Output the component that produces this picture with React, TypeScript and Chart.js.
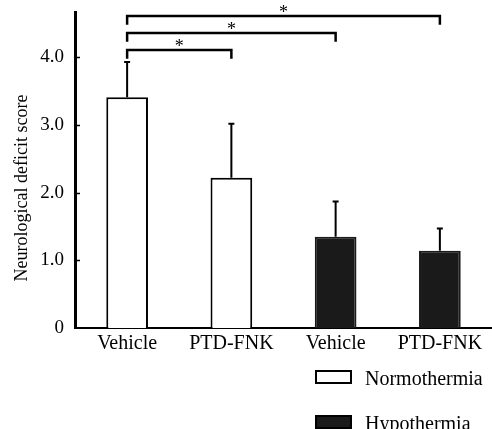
import React, { useEffect, useRef } from "react";
import { Chart, registerables } from "chart.js";

Chart.register(...registerables);

const categories = ["Vehicle", "PTD-FNK", "Vehicle", "PTD-FNK"];
const normothermia = [3.41, 2.22, null, null];
const hypothermia = [null, null, 1.35, 1.14];
const errorTops = [3.93, 3.02, 1.87, 1.47];
const yTicks = [0, 1, 2, 3, 4];
const bracketFrom = [0, 0, 0];
const bracketTo = [1, 2, 3];
const bracketLevel = [4.11, 4.36, 4.61];
const bracketDrop = 0.13;
const legendLabels = ["Normothermia", "Hypothermia"];
const legendFills = ["#ffffff", "#1a1a1a"];
const yTitle = "Neurological deficit score";

const SERIF = "'Liberation Serif', 'Times New Roman', serif";

const overlayPlugin = {
  id: "overlay",
  afterDraw(chart: any) {
    const ctx = chart.ctx;
    const x = chart.scales.x;
    const y = chart.scales.y;
    ctx.save();
    ctx.strokeStyle = "#000";
    ctx.fillStyle = "#000";
    // y title
    ctx.save();
    ctx.translate(22, 188);
    ctx.rotate(-Math.PI / 2);
    ctx.font = "18px " + SERIF;
    ctx.textAlign = "center";
    ctx.textBaseline = "middle";
    ctx.fillText(yTitle, 0, 0);
    ctx.restore();
    // inner y ticks
    ctx.lineWidth = 1.5;
    yTicks.forEach((v) => {
      if (v === 0) return;
      const py = Math.round(y.getPixelForValue(v)) + 0.5;
      ctx.beginPath();
      ctx.moveTo(chart.chartArea.left, py);
      ctx.lineTo(chart.chartArea.left + 5, py);
      ctx.stroke();
    });
    // error bars
    ctx.lineWidth = 2;
    errorTops.forEach((top, i) => {
      const v = normothermia[i] ?? hypothermia[i];
      if (v == null) return;
      const px = x.getPixelForValue(i);
      const y0 = y.getPixelForValue(v);
      const y1 = y.getPixelForValue(top);
      ctx.beginPath();
      ctx.moveTo(px, y0);
      ctx.lineTo(px, y1);
      ctx.moveTo(px - 3, y1);
      ctx.lineTo(px + 3, y1);
      ctx.stroke();
    });
    // brackets
    ctx.lineWidth = 2.5;
    ctx.font = "18px " + SERIF;
    ctx.textAlign = "center";
    ctx.textBaseline = "alphabetic";
    bracketLevel.forEach((lvl, i) => {
      const xa = x.getPixelForValue(bracketFrom[i]);
      const xb = x.getPixelForValue(bracketTo[i]);
      const yl = y.getPixelForValue(lvl);
      const yd = y.getPixelForValue(lvl - bracketDrop);
      ctx.beginPath();
      ctx.moveTo(xa, yd);
      ctx.lineTo(xa, yl);
      ctx.lineTo(xb, yl);
      ctx.lineTo(xb, yd);
      ctx.stroke();
      ctx.fillText("*", (xa + xb) / 2, yl + 2);
    });
    // legend
    const bx = 316;
    const rows = [371, 416];
    ctx.font = "20px " + SERIF;
    ctx.textAlign = "left";
    ctx.textBaseline = "middle";
    legendLabels.forEach((lab, i) => {
      ctx.fillStyle = legendFills[i];
      ctx.fillRect(bx, rows[i], 35, 12);
      ctx.lineWidth = 2;
      ctx.strokeStyle = "#000";
      ctx.strokeRect(bx, rows[i], 35, 12);
      ctx.fillStyle = "#000";
      ctx.fillText(lab, 365, rows[i] + 9);
    });
    ctx.restore();
  },
};

export default function App() {
  const ref = useRef<HTMLCanvasElement>(null);
  useEffect(() => {
    const chart = new Chart(ref.current!, {
      type: "bar",
      data: {
        labels: categories,
        datasets: [
          {
            label: legendLabels[0],
            data: normothermia,
            backgroundColor: legendFills[0],
            borderColor: "#000",
            borderWidth: 2,
            grouped: false,
            barPercentage: 0.4,
            categoryPercentage: 1,
          },
          {
            label: legendLabels[1],
            data: hypothermia,
            backgroundColor: legendFills[1],
            borderColor: "#1a1a1a",
            borderWidth: 2,
            grouped: false,
            barPercentage: 0.4,
            categoryPercentage: 1,
          },
        ] as any,
      },
      options: {
        responsive: false,
        animation: false,
        devicePixelRatio: 1,
        layout: { padding: { top: 12, left: 0, right: 0, bottom: 0 } },
        plugins: { legend: { display: false }, tooltip: { enabled: false } },
        scales: {
          x: {
            grid: { display: false, drawTicks: false },
            border: { display: true, color: "#000", width: 2 },
            ticks: {
              color: "#000",
              padding: 4,
              font: { family: SERIF, size: 20 },
            },
            afterFit: (s: any) => {
              s.height = 101;
              s.paddingLeft = 0;
              s.paddingRight = 0;
            },
          },
          y: {
            min: 0,
            max: 4.67,
            grid: { display: false, drawTicks: false },
            border: { display: true, color: "#000", width: 3 },
            ticks: {
              stepSize: 1,
              includeBounds: false,
              color: "#000",
              padding: 11,
              font: { family: SERIF, size: 19 },
              callback: (v: any) => (v === 0 ? "0" : Number(v).toFixed(1)),
            },
            afterFit: (s: any) => {
              s.width = 75;
              s.paddingTop = 0;
              s.paddingBottom = 0;
            },
          },
        },
      },
      plugins: [overlayPlugin],
    });
    return () => chart.destroy();
  }, []);
  return (
    <div style={{ position: "fixed", left: 0, top: 0, width: 492, height: 429, background: "#fff" }}>
      <canvas ref={ref} width={492} height={429} style={{ display: "block" }} />
    </div>
  );
}
